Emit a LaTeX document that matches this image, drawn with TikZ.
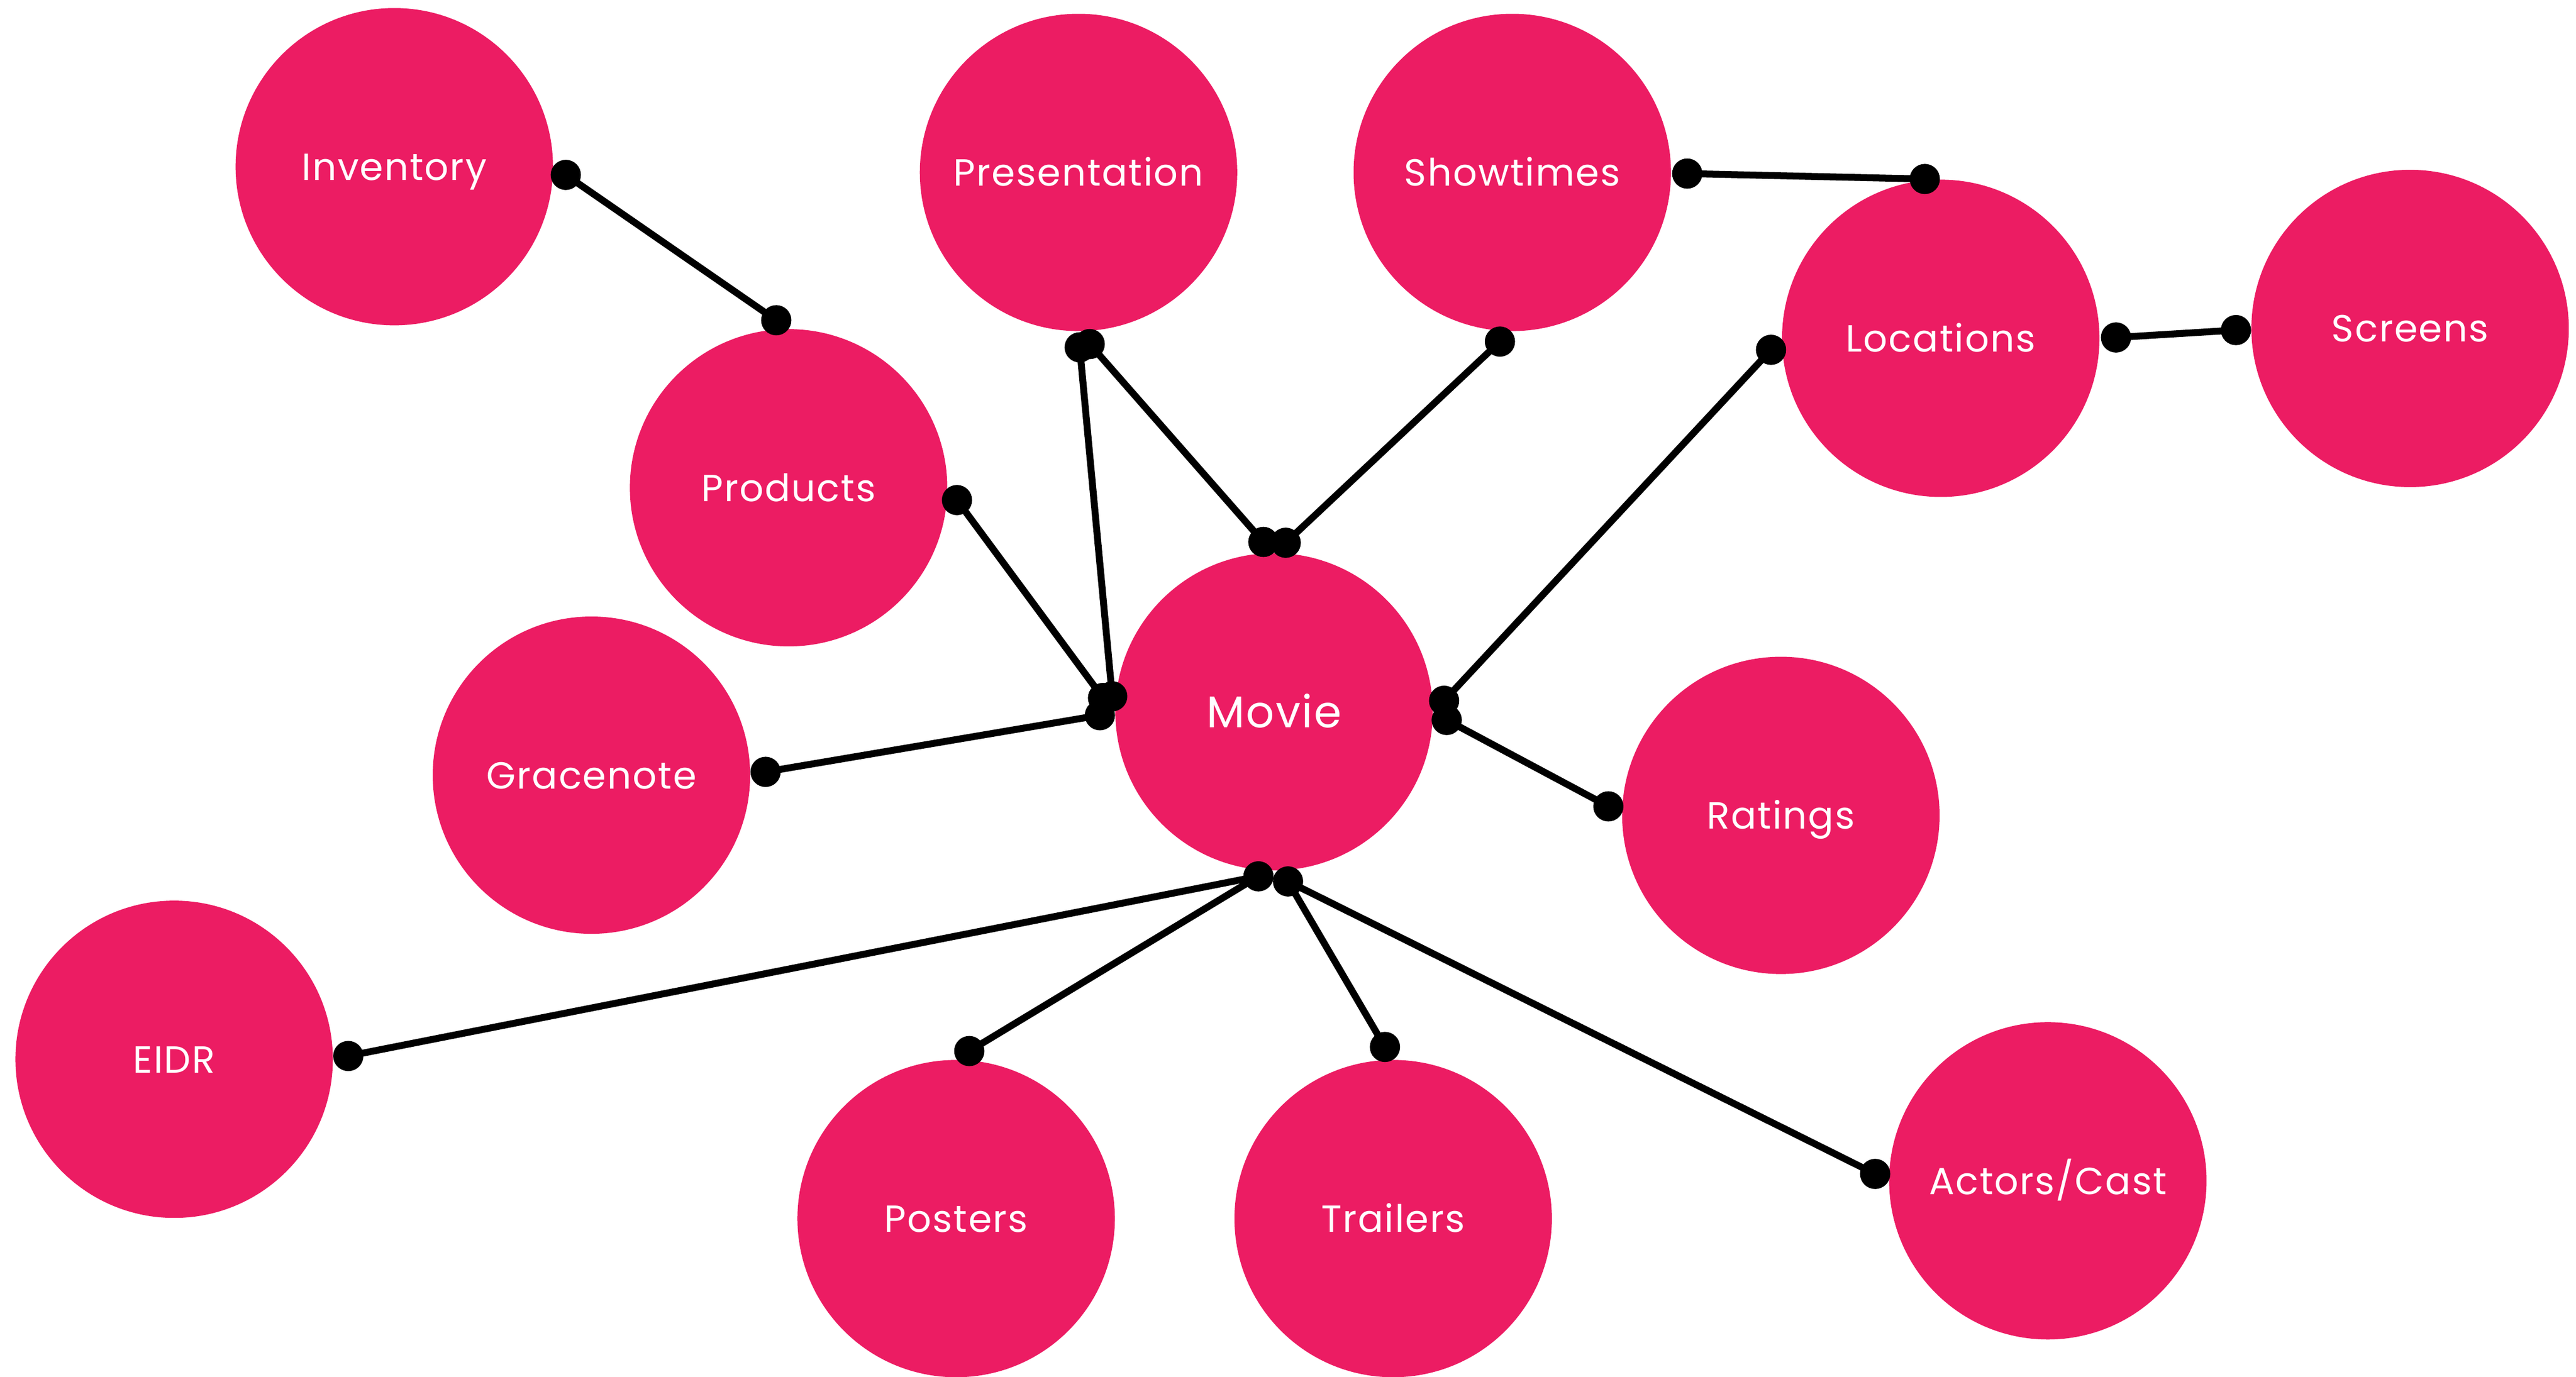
\documentclass[tikz,border=0pt]{standalone}
\usepackage{fontspec}
\setmainfont{Poppins}[LetterSpace=3]
\definecolor{pinkc}{RGB}{236,28,99}
\begin{document}
\begin{tikzpicture}[x=0.5pt,y=-0.5pt,
  ent/.style={circle,fill=pinkc,minimum size=96.6pt,inner sep=0pt,text=white,
    font=\fontsize{11.5}{12}\selectfont,text height=8.2pt,text depth=0pt},
  bigent/.style={ent,font=\fontsize{13.5}{14}\selectfont,text height=9.6pt},
  dotn/.style={circle,fill=black,minimum size=9.2pt,inner sep=0pt},
  link/.style={line width=2.1pt,black}]
\useasboundingbox (0,0) rectangle (1568,838.4);
% entities
\node[ent] (inv) at (240,101.5) {Inventory};
\node[ent] (pres) at (656.5,105) {Presentation};
\node[ent] (show) at (920.5,105) {Showtimes};
\node[ent] (loc) at (1181.3,206) {Locations};
\node[ent] (scr) at (1467,200) {Screens};
\node[ent] (prod) at (480,297) {Products};
\node[ent] (grace) at (360,472) {Gracenote};
\node[bigent] (movie) at (775.5,433.4) {Movie};
\node[ent] (rat) at (1084,496.5) {Ratings};
\node[ent] (eidr) at (106,645) {EIDR};
\node[ent] (post) at (582,742) {Posters};
\node[ent] (trail) at (848,742) {Trailers};
\node[ent] (act) at (1246.5,719) {Actors/Cast};
% connector end points
\coordinate (dinv) at (344.4,106.5);
\coordinate (dprodt) at (472.5,195);
\coordinate (dpresa) at (657.2,211.5);
\coordinate (dmova) at (677,424);
\coordinate (dpresb) at (663.3,209.5);
\coordinate (dmovt1) at (769,330);
\coordinate (dshowb) at (913,208);
\coordinate (dmovt2) at (782.6,330.5);
\coordinate (dshowr) at (1027,105.7);
\coordinate (dloct) at (1171.6,109);
\coordinate (dlocr) at (1288,205.5);
\coordinate (dscr) at (1361,201);
\coordinate (dlocl) at (1078,213);
\coordinate (dmovr1) at (879,426.7);
\coordinate (dprodr) at (582.5,304.5);
\coordinate (dmovb) at (671.4,425);
\coordinate (dgrace) at (466,470);
\coordinate (dmovc) at (669.5,435.5);
\coordinate (dmovr2) at (880.6,438.4);
\coordinate (drat) at (979,491);
\coordinate (dmovb1) at (766,533.6);
\coordinate (deidr) at (212,643);
\coordinate (dpost) at (590,640);
\coordinate (dmovb2) at (784,536.7);
\coordinate (dtrail) at (843,637.5);
\coordinate (dact) at (1141.4,714.8);
% connectors
\draw[link] (dinv) -- (dprodt);
\draw[link] (dpresa) -- (dmova);
\draw[link] (dpresb) -- (dmovt1);
\draw[link] (dshowb) -- (dmovt2);
\draw[link] (dshowr) -- (dloct);
\draw[link] (dlocr) -- (dscr);
\draw[link] (dlocl) -- (dmovr1);
\draw[link] (dprodr) -- (dmovb);
\draw[link] (dgrace) -- (dmovc);
\draw[link] (dmovr2) -- (drat);
\draw[link] (dmovb1) -- (deidr);
\draw[link] (dmovb1) -- (dpost);
\draw[link] (dmovb2) -- (dtrail);
\draw[link] (dmovb2) -- (dact);
% end dots
\foreach \p in {dinv,dprodt,dpresa,dmova,dpresb,dmovt1,dshowb,dmovt2,dshowr,dloct,dlocr,dscr,dlocl,dmovr1,dprodr,dmovb,dgrace,dmovc,dmovr2,drat,dmovb1,deidr,dpost,dmovb2,dtrail,dact}
  \node[dotn] (n\p) at (\p) {};
\end{tikzpicture}
\end{document}
